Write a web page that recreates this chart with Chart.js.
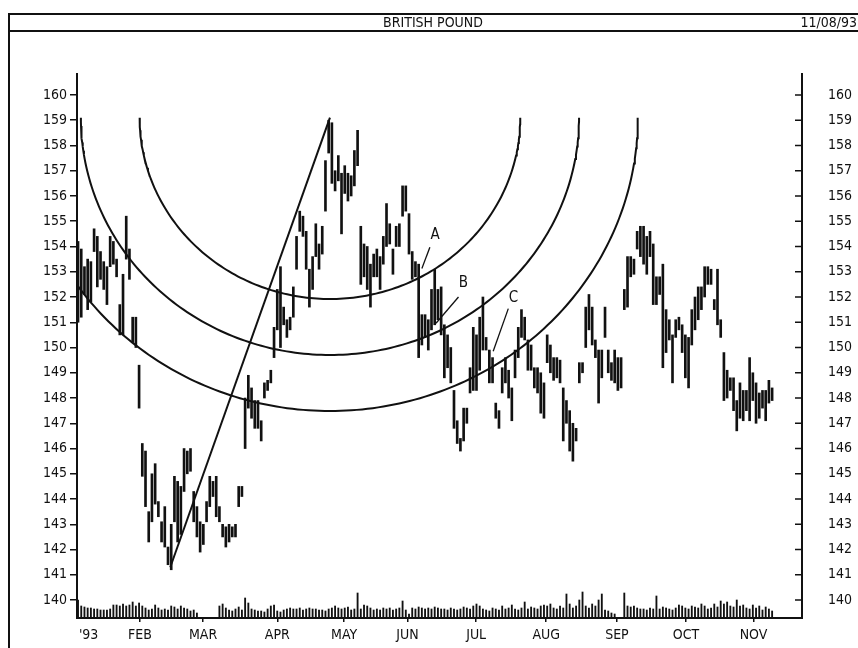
<!DOCTYPE html>
<html>
<head>
<meta charset="utf-8">
<script src="https://cdn.jsdelivr.net/npm/chart.js@4.4.1/dist/chart.umd.min.js"></script>
<style>
  html, body { margin: 0; padding: 0; background: #fff; }
  canvas { display: block; }
</style>
</head>
<body>
<canvas id="chart" width="858" height="648"></canvas>
<script>
// British Pound futures, daily HLC bars 1993 with Fibonacci arcs

// daily highs / lows, one per trading day starting Jan 4
const highs = [
  154.2,153.9,153.2,153.5,153.4,154.7,154.4,153.8,153.4,153.2,154.4,154.2,153.5,151.7,152.9,155.2,153.9,151.2,151.2,
  149.3,146.2,145.9,143.5,145.0,145.4,143.9,143.1,143.7,142.1,143.0,144.9,144.7,144.5,146.0,145.9,146.0,144.3,143.7,
  143.1,143.0,143.9,144.9,144.7,144.9,143.7,143.0,142.9,143.0,142.9,143.0,144.5,144.5,148.0,148.9,148.4,147.9,147.9,147.1,148.6,148.7,149.1,150.8,
  152.3,153.2,151.6,151.1,151.2,152.4,154.4,155.4,155.2,154.6,153.1,153.6,154.9,154.1,154.8,157.4,159.0,158.9,157.0,157.6,156.9,
  157.2,156.9,156.8,157.8,158.6,154.8,154.1,154.0,153.3,153.7,153.9,153.6,154.4,155.7,154.9,153.9,154.8,154.9,156.4,156.4,
  155.3,153.8,153.4,153.3,151.3,151.3,151.1,152.3,153.1,152.3,152.4,150.9,150.5,150.0,148.3,147.1,146.4,147.6,147.6,
  149.2,150.8,150.5,151.2,152.0,150.4,149.9,149.6,147.8,147.5,149.2,149.6,149.1,148.4,149.9,150.8,151.5,151.2,150.3,150.1,149.2,149.2,
  149.0,148.6,150.5,150.1,149.6,149.6,149.5,148.4,147.9,147.5,147.0,146.8,149.4,149.4,151.6,152.1,151.6,150.3,149.9,149.9,151.6,149.9,
  149.4,149.9,149.6,149.6,152.3,153.6,153.6,153.5,154.6,154.8,154.8,154.4,154.6,154.1,152.8,152.8,153.3,151.5,151.1,150.5,151.1,
  151.2,150.9,150.5,150.4,151.5,152.0,152.4,152.4,153.2,153.2,153.1,151.9,153.1,151.1,149.8,149.1,148.8,148.8,147.9,148.6,
  148.3,148.3,149.6,149.0,148.6,148.2,148.3,148.3,148.7,148.4
];
const lows = [
  151.0,151.2,152.1,151.5,151.8,153.8,152.4,152.7,152.3,151.7,153.2,153.3,152.8,150.5,150.5,153.5,152.7,150.2,150.0,
  147.6,144.9,143.7,142.3,143.1,143.8,143.3,142.3,142.1,141.4,141.2,143.1,142.3,142.6,144.3,145.0,145.1,143.1,142.5,
  141.9,142.2,143.1,143.7,144.1,143.3,143.1,142.5,142.1,142.3,142.5,142.5,143.7,144.1,146.0,147.6,147.2,146.8,146.8,146.3,148.0,148.3,148.6,149.6,
  150.7,150.0,150.9,150.4,150.7,151.2,153.1,154.6,154.4,153.1,151.6,152.3,153.6,153.1,153.7,155.4,157.7,156.5,156.2,156.6,154.5,
  156.1,155.8,156.0,156.4,157.2,152.5,152.8,152.3,151.6,152.8,152.8,152.3,153.3,154.0,154.1,152.9,154.0,154.0,155.2,155.4,
  153.7,152.7,152.8,149.6,150.1,150.4,149.9,150.7,150.9,151.1,150.5,148.8,149.2,148.6,146.8,146.2,145.9,146.3,147.0,
  148.2,148.3,148.3,149.1,149.9,149.9,148.6,148.6,147.2,146.8,148.2,148.6,148.0,147.1,148.8,149.6,150.4,150.3,149.1,149.1,148.4,148.2,
  147.4,147.2,149.4,149.0,148.7,148.8,148.6,146.3,147.0,145.9,145.5,146.3,148.6,149.0,150.0,150.7,150.1,149.6,147.8,148.8,150.4,149.0,
  148.7,148.6,148.3,148.4,151.5,151.6,152.8,152.9,153.9,153.6,153.3,152.9,153.6,151.7,151.7,152.1,149.2,149.8,150.3,148.6,150.4,
  150.7,149.8,148.8,148.4,150.1,150.7,151.1,151.5,152.0,152.5,152.5,151.5,150.9,150.4,147.9,148.0,148.3,147.5,146.7,147.2,
  147.1,147.5,147.1,147.9,147.0,147.2,147.6,147.1,147.8,147.9
];

// daily volume (relative units), null where the chart shows none
const volumes = [
  18,12,11,10,10,9,9,8,8,8,9,13,13,12,14,12,13,16,12,
  15,12,10,8,9,13,10,8,9,8,12,11,9,12,10,9,7,8,5,
  null,null,null,null,null,null,12,14,10,8,7,9,11,8,20,15,9,8,7,7,6,9,12,13,
  7,6,8,9,10,9,9,10,8,9,10,9,9,8,8,7,9,10,12,10,9,
  10,11,8,9,25,9,13,12,10,8,9,8,10,9,10,8,9,10,17,8,
  4,10,9,11,10,9,10,9,11,10,9,9,8,10,9,8,9,11,10,9,12,
  14,12,9,8,7,10,9,8,12,9,10,13,9,8,10,16,9,11,10,9,12,13,
  12,14,10,9,12,10,24,14,10,12,18,26,12,10,14,12,18,24,8,7,5,4,
  null,null,25,12,11,12,10,9,9,8,10,9,22,9,11,10,9,8,10,13,12,
  10,9,12,11,10,14,12,9,10,14,11,17,14,16,12,11,18,12,13,10,9,
  13,10,12,8,11,9,7
];

// month axis (trading-day positions)
const monthDays   = [4.3, 20.3, 39.9, 63.0, 83.8, 103.5, 124.9, 146.7, 168.7, 190.2, 211.2];
const monthLabels = ["'93", 'FEB', 'MAR', 'APR', 'MAY', 'JUN', 'JUL', 'AUG', 'SEP', 'OCT', 'NOV'];
const priceTicks  = [140,141,142,143,144,145,146,147,148,149,150,151,152,153,154,155,156,157,158,159,160];

// Fibonacci arcs: swing low -> swing high, arcs centred on the high
const swingLow  = [29.7, 141.3];
const swingHigh = [79.4, 159.1];
const fibRatios = [0.382, 0.5, 0.618];
const daysPerPoint = 8.25;

// A / B / C notes: text spot, leader start, leader end  [day, price]
const noteLabels = ['A', 'B', 'C'];
const noteText   = [[112.1, 154.45], [120.9, 152.55], [136.5, 151.95]];
const noteFrom   = [[110.5, 153.97], [119.4, 152.0], [134.9, 151.54]];
const noteTo     = [[108.0, 153.13], [112.4, 150.96], [130.2, 149.85]];

const INK = '#111';
const FONT = "'DejaVu Sans Condensed', 'Liberation Sans Narrow', sans-serif";

const priceBars = highs.map((h, i) => ({ x: i + 1, y: [lows[i], h] }));
const volBars = volumes.map((v, i) => ({ x: i + 1, y: v }));

function arcPoints(ratio){
  const dx = (swingHigh[0] - swingLow[0]) / daysPerPoint;
  const dy = swingHigh[1] - swingLow[1];
  const r = ratio * Math.sqrt(dx*dx + dy*dy);
  const pts = [];
  for(let a = 180; a >= 0; a -= 1){
    const t = a * Math.PI / 180;
    pts.push({ x: swingHigh[0] + r * daysPerPoint * Math.cos(t), y: swingHigh[1] - r * Math.sin(t) });
  }
  return pts;
}

const lineStyle = { type: 'line', borderColor: INK, borderWidth: 2, pointRadius: 0, tension: 0, fill: false, yAxisID: 'y' };

const datasets = [
  { type: 'bar', data: priceBars, backgroundColor: INK, barThickness: 2, grouped: false, yAxisID: 'y' },
  { type: 'bar', data: volBars, backgroundColor: INK, barThickness: 1.2, grouped: false, yAxisID: 'yv' },
  ...fibRatios.map(r => ({ ...lineStyle, data: arcPoints(r) })),
  { ...lineStyle, data: [{ x: swingLow[0], y: swingLow[1] }, { x: swingHigh[0], y: swingHigh[1] }] },
  ...noteFrom.map((p, i) => ({ ...lineStyle, borderWidth: 1.3, data: [{ x: p[0], y: p[1] }, { x: noteTo[i][0], y: noteTo[i][1] }] }))
];

// page frame, title, inner right ticks, note letters
const decor = {
  id: 'decor',
  beforeDraw(chart){
    const c = chart.ctx;
    c.save();
    c.fillStyle = '#fff';
    c.fillRect(0, 0, chart.width, chart.height);
    c.restore();
  },
  afterDraw(chart){
    const c = chart.ctx, a = chart.chartArea;
    const ys = chart.scales.y, xs = chart.scales.x;
    c.save();
    c.strokeStyle = INK;
    c.lineWidth = 2;
    c.beginPath();
    c.moveTo(9, 648); c.lineTo(9, 14); c.lineTo(858, 14);
    c.moveTo(9, 31); c.lineTo(858, 31);
    c.stroke();
    c.fillStyle = INK;
    c.font = '14px ' + FONT;
    c.textBaseline = 'middle';
    c.textAlign = 'center';
    c.fillText('BRITISH POUND', 433, 23);
    c.textAlign = 'right';
    c.fillText('11/08/93', 857, 23);
    // inward ticks on right axis
    c.lineWidth = 1.5;
    c.beginPath();
    priceTicks.forEach(v => {
      const y = ys.getPixelForValue(v);
      c.moveTo(a.right - 7, y); c.lineTo(a.right, y);
    });
    c.stroke();
    c.font = '15px ' + FONT;
    c.textAlign = 'center';
    noteLabels.forEach((t, i) => {
      c.fillText(t, xs.getPixelForValue(noteText[i][0]), ys.getPixelForValue(noteText[i][1]));
    });
    c.restore();
  }
};

const tickFont = { family: FONT, size: 14 };

new Chart(document.getElementById('chart'), {
  type: 'line',
  data: { datasets },
  options: {
    responsive: false,
    animation: false,
    events: [],
    layout: { padding: { top: 74, left: 0, right: 0, bottom: 0 } },
    plugins: { legend: { display: false }, tooltip: { enabled: false }, title: { display: false } },
    scales: {
      x: {
        type: 'linear', position: 'bottom', min: 0.68, max: 226.3, offset: false,
        border: { display: true, color: INK, width: 2 },
        grid: { drawOnChartArea: false, tickLength: 4, lineWidth: 1.5, offset: false,
                color: ctx => ctx.index === 0 ? 'rgba(0,0,0,0)' : INK },
        ticks: { autoSkip: false, maxRotation: 0, padding: 5, color: INK, font: tickFont,
                 callback: (v, i) => monthLabels[i] },
        afterBuildTicks: s => { s.ticks = monthDays.map(v => ({ value: v })); },
        afterFit: s => { s.height = 30; s.paddingLeft = 0; s.paddingRight = 0; }
      },
      y: {
        type: 'linear', position: 'left', min: 139.29, max: 160.83,
        border: { display: true, color: INK, width: 2 },
        grid: { drawOnChartArea: false, tickLength: 7, lineWidth: 1.5, color: INK },
        ticks: { padding: 3, color: INK, font: tickFont },
        afterBuildTicks: s => { s.ticks = priceTicks.map(v => ({ value: v })); },
        afterFit: s => { s.width = 77; s.paddingTop = 0; s.paddingBottom = 0; }
      },
      yr: {
        type: 'linear', position: 'right', min: 139.29, max: 160.83,
        border: { display: true, color: INK, width: 2 },
        grid: { drawOnChartArea: false, drawTicks: false },
        ticks: { padding: 26, color: INK, font: tickFont },
        afterBuildTicks: s => { s.ticks = priceTicks.map(v => ({ value: v })); },
        afterFit: s => { s.width = 56; s.paddingTop = 0; s.paddingBottom = 0; }
      },
      yv: { type: 'linear', display: false, min: 0, max: 544 }
    }
  },
  plugins: [decor]
});
</script>
</body>
</html>
